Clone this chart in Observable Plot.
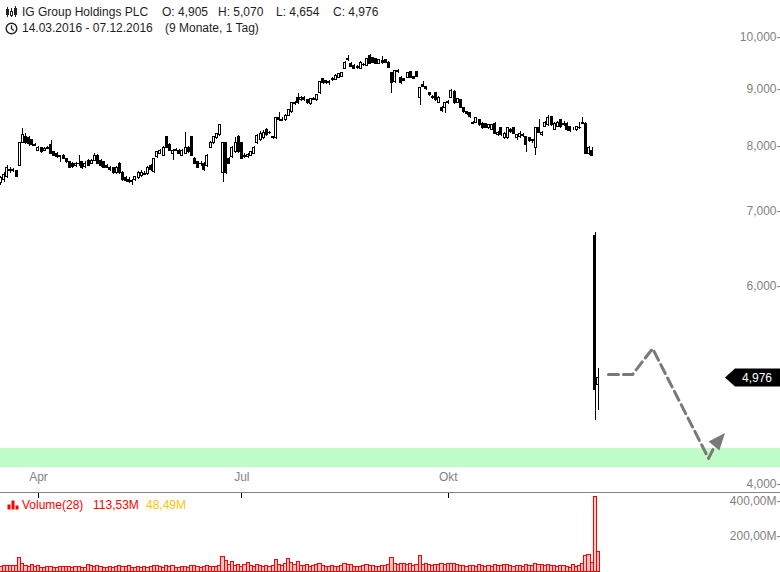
<!DOCTYPE html>
<html><head><meta charset="utf-8">
<script src="https://cdn.jsdelivr.net/npm/d3@7"></script>
<script src="https://cdn.jsdelivr.net/npm/@observablehq/plot@0.6"></script>
<style>
body{margin:0;background:#fff;font-family:"Liberation Sans",Arial,sans-serif;}
#wrap{position:relative;width:780px;height:572px;overflow:hidden;background:#fff}
#price{position:absolute;left:0;top:0}
#vol{position:absolute;left:0;top:493px}
.t{position:absolute;font-size:12px;line-height:14px;color:#1e1e1e;white-space:pre}
</style></head><body>
<div id="wrap">
<div id="price"></div>
<div id="vol"></div>
<svg style="position:absolute;left:5px;top:6px" width="14" height="12" viewBox="0 0 14 12">
 <g stroke="#222" stroke-width="1" fill="none" shape-rendering="crispEdges">
  <line x1="2.5" y1="1" x2="2.5" y2="11"/><rect x="1.5" y="3.5" width="2" height="5" fill="#222"/>
  <line x1="6.5" y1="2" x2="6.5" y2="11"/><rect x="5.5" y="5.5" width="2" height="4" fill="#fff"/>
  <line x1="10.5" y1="0" x2="10.5" y2="11"/><rect x="9.5" y="2.5" width="2" height="6" fill="#222"/>
 </g></svg>
<div class="t" id="ttl" style="left:22px;top:5px"></div>
<div class="t" id="o" style="left:162px;top:5px"></div>
<div class="t" id="h" style="left:218px;top:5px"></div>
<div class="t" id="l" style="left:276px;top:5px"></div>
<div class="t" id="c" style="left:333px;top:5px"></div>
<svg style="position:absolute;left:5px;top:22px" width="13" height="13" viewBox="0 0 13 13">
 <circle cx="6.5" cy="6.5" r="5.3" stroke="#222" stroke-width="1.4" fill="none"/>
 <path d="M6.5 3.2 V6.8 L8.8 8.6" stroke="#222" stroke-width="1.3" fill="none"/></svg>
<div class="t" id="range" style="left:22px;top:21px"></div>
<div class="t" id="span" style="left:165px;top:21px"></div>
<svg style="position:absolute;left:7px;top:500px" width="12" height="10" viewBox="0 0 12 10">
 <rect x="0.5" y="4.5" width="3" height="5" fill="#f00"/><rect x="4.5" y="0.5" width="3" height="9" fill="#f00"/><rect x="8.5" y="5.5" width="3" height="4" fill="#f00"/></svg>
<div class="t" id="vlab" style="left:22px;top:498px;color:#f00"></div>
<div class="t" id="vcur" style="left:93px;top:498px;color:#f00"></div>
<div class="t" id="vavg" style="left:146px;top:498px;color:#f7c600"></div>
</div>
<script>
// ---------- data ----------
const title = "IG Group Holdings PLC";
const dateRange = "14.03.2016 - 07.12.2016";
const spanText = "(9 Monate, 1 Tag)";
const xTicks = [12, 77, 143];
const xTickLabels = ["Apr", "Jul", "Okt"];
const yTicks = [4, 6, 7, 8, 9, 10];
const volTicks = [200, 400];
const supportZone = [4.141, 4.306];
const volLegend = ["Volume(28)", "113,53M", "48,49M"];

const open = [7.42,7.46,7.51,7.62,7.61,7.60,7.69,8.06,8.15,8.13,8.10,8.02,7.93,7.97,7.93,7.96,8.02,7.90,7.88,7.82,
7.84,7.80,7.74,7.72,7.68,7.72,7.74,7.67,7.77,7.72,7.77,7.85,7.77,7.74,7.68,7.66,7.65,7.57,7.72,7.58,
7.50,7.47,7.45,7.46,7.49,7.53,7.56,7.56,7.69,7.59,7.82,7.88,7.85,8.15,8.02,7.88,7.93,7.93,7.85,7.88,
7.97,8.15,7.80,7.74,7.71,7.72,7.69,7.98,8.05,8.13,8.18,7.57,8.05,7.80,7.82,7.90,8.15,8.05,7.85,7.83,
7.85,7.88,8.05,8.10,8.13,8.27,8.23,8.15,8.13,8.47,8.45,8.44,8.52,8.58,8.74,8.84,8.79,8.84,8.79,8.72,
8.81,8.79,8.92,9.18,9.14,9.11,9.16,9.17,9.21,9.23,9.38,9.54,9.48,9.44,9.39,9.38,9.46,9.44,9.62,9.58,
9.56,9.48,9.52,9.54,9.50,9.29,9.12,9.33,9.21,9.18,9.21,9.31,9.22,9.31,8.84,9.08,9.03,8.92,8.83,8.92,
8.75,8.66,8.66,8.75,8.84,8.95,8.75,8.79,8.65,8.58,8.56,8.38,8.40,8.44,8.38,8.37,8.30,8.28,8.38,8.18,
8.30,8.13,8.14,8.27,8.30,8.13,8.15,8.19,8.15,8.13,8.10,7.97,8.30,8.18,8.33,8.35,8.49,8.28,8.33,8.44,
8.38,8.38,8.32,8.28,8.27,8.30,8.38,8.38,7.87,7.93,6.66,4.905];
const high = [7.52,7.58,7.69,7.66,7.65,7.62,8.07,8.30,8.22,8.16,8.12,8.05,7.99,7.98,7.98,7.99,8.10,7.91,7.90,7.85,
7.86,7.81,7.76,7.74,7.74,7.85,7.75,7.76,7.78,7.79,7.88,7.87,7.78,7.76,7.70,7.67,7.66,7.68,7.74,7.60,
7.52,7.50,7.47,7.52,7.59,7.61,7.60,7.67,7.70,7.81,7.92,7.95,7.99,8.17,8.04,7.95,7.96,7.95,7.95,8.23,
7.99,8.17,7.82,7.76,7.75,7.74,7.87,8.08,8.17,8.22,8.37,8.07,8.07,7.82,7.99,8.15,8.18,8.06,7.88,7.88,
7.91,8.00,8.19,8.25,8.27,8.29,8.25,8.17,8.49,8.58,8.48,8.54,8.63,8.76,8.77,8.92,8.86,8.86,8.81,8.83,
8.84,8.90,9.14,9.20,9.16,9.15,9.21,9.27,9.29,9.31,9.52,9.64,9.50,9.46,9.44,9.52,9.48,9.58,9.66,9.60,
9.58,9.56,9.62,9.56,9.52,9.31,9.35,9.36,9.23,9.20,9.31,9.33,9.24,9.33,9.03,9.14,9.05,8.94,8.88,8.94,
8.86,8.68,8.76,8.79,8.99,8.97,8.83,8.81,8.67,8.60,8.58,8.42,8.49,8.46,8.40,8.39,8.37,8.37,8.40,8.25,
8.32,8.23,8.32,8.29,8.32,8.20,8.24,8.22,8.17,8.15,8.12,8.32,8.45,8.25,8.42,8.52,8.51,8.40,8.42,8.46,
8.42,8.40,8.34,8.31,8.34,8.40,8.49,8.40,7.99,7.98,6.70,5.070];
const low = [7.38,7.43,7.49,7.57,7.58,7.50,7.67,8.04,8.03,8.00,7.99,7.99,7.92,7.89,7.91,7.94,7.87,7.84,7.80,7.74,
7.79,7.72,7.64,7.65,7.66,7.68,7.63,7.65,7.68,7.70,7.75,7.70,7.66,7.64,7.64,7.60,7.55,7.55,7.55,7.44,
7.43,7.41,7.39,7.44,7.48,7.51,7.53,7.54,7.60,7.57,7.80,7.86,7.84,7.96,7.91,7.77,7.91,7.86,7.84,7.86,
7.88,7.83,7.70,7.64,7.68,7.60,7.66,7.96,8.03,8.11,8.16,7.43,7.55,7.70,7.80,7.88,7.88,7.78,7.80,7.81,
7.83,7.87,8.03,8.08,8.11,8.16,8.20,8.11,8.11,8.42,8.41,8.42,8.50,8.56,8.70,8.72,8.77,8.77,8.72,8.70,
8.78,8.77,8.90,9.08,9.08,9.07,9.14,9.15,9.19,9.21,9.36,9.52,9.40,9.36,9.37,9.36,9.43,9.42,9.46,9.48,
9.46,9.46,9.47,9.48,9.38,8.92,9.10,9.29,9.08,9.13,9.19,9.19,9.17,9.21,8.70,9.02,8.97,8.86,8.81,8.77,
8.73,8.58,8.56,8.72,8.82,8.72,8.73,8.64,8.56,8.52,8.47,8.36,8.38,8.33,8.28,8.29,8.28,8.27,8.19,8.16,
8.16,8.11,8.12,8.22,8.19,8.10,8.13,8.15,7.90,8.06,8.05,7.85,8.21,8.16,8.31,8.33,8.33,8.26,8.31,8.30,
8.33,8.25,8.23,8.26,8.25,8.28,8.36,7.86,7.85,7.83,4.56,4.654];
const close = [7.49,7.55,7.65,7.60,7.62,7.51,8.05,8.18,8.05,8.03,8.02,8.01,7.97,7.90,7.96,7.97,7.88,7.85,7.82,7.84,
7.80,7.74,7.66,7.67,7.72,7.71,7.66,7.72,7.69,7.77,7.85,7.72,7.69,7.66,7.66,7.62,7.57,7.66,7.57,7.46,
7.45,7.43,7.43,7.51,7.57,7.58,7.55,7.65,7.62,7.80,7.90,7.93,7.97,7.98,7.93,7.93,7.94,7.88,7.93,7.97,
7.90,7.85,7.72,7.66,7.72,7.62,7.85,8.06,8.15,8.20,8.35,8.05,7.57,7.72,7.97,8.06,7.90,7.80,7.82,7.86,
7.90,7.98,8.17,8.21,8.23,8.18,8.22,8.13,8.47,8.44,8.43,8.52,8.61,8.74,8.72,8.74,8.84,8.79,8.74,8.81,
8.80,8.88,9.12,9.10,9.10,9.12,9.19,9.25,9.27,9.29,9.50,9.56,9.42,9.38,9.42,9.50,9.45,9.56,9.48,9.50,
9.48,9.54,9.50,9.50,9.40,9.10,9.33,9.31,9.10,9.15,9.29,9.21,9.19,9.23,9.01,9.04,8.99,8.88,8.86,8.79,
8.84,8.60,8.74,8.76,8.97,8.74,8.81,8.66,8.58,8.54,8.49,8.40,8.47,8.35,8.30,8.31,8.35,8.35,8.21,8.23,
8.18,8.21,8.30,8.24,8.21,8.18,8.21,8.17,8.02,8.08,8.09,8.30,8.23,8.23,8.40,8.47,8.35,8.38,8.40,8.32,
8.36,8.27,8.25,8.28,8.32,8.31,8.40,7.88,7.97,7.85,4.85,4.976];
const volume = [28,30,32,30,34,30,78,45,30,28,35,26,30,22,22,24,26,22,20,26,
24,24,28,22,26,24,22,20,38,30,26,34,28,22,20,24,22,28,30,26,
24,30,22,20,26,22,24,20,28,34,30,24,22,34,26,30,22,22,26,28,
22,30,34,26,22,28,30,24,26,28,30,84,62,40,55,30,38,26,40,46,
30,28,40,30,26,34,24,30,65,40,30,45,69,50,40,53,34,30,40,28,
30,36,44,30,26,28,30,26,24,30,45,40,36,28,24,28,30,36,34,30,
28,26,30,34,40,80,44,40,44,44,36,44,30,40,91,40,44,40,34,40,
36,44,40,42,44,42,40,34,30,28,34,30,28,36,30,26,34,28,36,30,
34,40,38,30,28,34,30,26,40,34,30,42,36,40,34,36,30,30,26,32,
30,24,22,36,26,34,44,90,92,46,423,113.53];
// projected path drawn on the chart (index, price); last point = base of arrow head
const pathX = [194.2, 201.9, 208.3, 226.2, 228.1];
const pathY = [5.01, 5.01, 5.285, 4.219, 4.324];
const headTip = {x: 231.6, y: 4.441};

// ---------- helpers ----------
const de = (v, d) => v.toFixed(d).replace(".", ",");
const n = close.length;
const candles = d3.range(n).map(i => ({i, o: open[i], h: high[i], l: low[i], c: close[i]}));
const vols = d3.range(n).map(i => ({i, v: volume[i]}));
const pathPts = pathX.map((x, k) => ({x, y: pathY[k]}));
const xDomain = [-0.147, 249.2];
const W = 780;
const gray = "#828282";
const arrowCol = "#7d7878";
const last = close[n - 1];

document.getElementById("ttl").textContent = title;
document.getElementById("o").textContent = "O: " + de(open[n-1], 3);
document.getElementById("h").textContent = "H: " + de(high[n-1], 3);
document.getElementById("l").textContent = "L: " + de(low[n-1], 3);
document.getElementById("c").textContent = "C: " + de(close[n-1], 3);
document.getElementById("range").textContent = dateRange;
document.getElementById("span").textContent = spanText;
document.getElementById("vlab").textContent = volLegend[0];
document.getElementById("vcur").textContent = volLegend[1];
document.getElementById("vavg").textContent = volLegend[2];

const priceTag = (index, scales, values, dims) => {
  const y = Math.round(scales.y(last)) + 0.5;
  const R = dims.width;
  const g = d3.create("svg:g");
  g.append("path")
    .attr("d", `M${R-55},${y} L${R-45},${y-9} L${R},${y-9} L${R},${y+9} L${R-45},${y+9} Z`)
    .attr("fill", "#000");
  g.append("text").attr("x", R - 23).attr("y", y).attr("dy", "0.35em")
    .attr("text-anchor", "middle").attr("fill", "#fff")
    .attr("font-size", 12).text(de(last, 3));
  return g.node();
};

const arrowHead = (index, scales) => {
  const bx = scales.x(pathX[pathX.length - 1]), by = scales.y(pathY[pathY.length - 1]);
  const tx = scales.x(headTip.x), ty = scales.y(headTip.y);
  const dx = tx - bx, dy = ty - by, L = Math.hypot(dx, dy);
  const px = -dy / L * 7, py = dx / L * 7;
  const g = d3.create("svg:g");
  g.append("path")
    .attr("d", `M${tx},${ty} L${bx + px},${by + py} L${bx - px},${by - py} Z`)
    .attr("fill", arrowCol);
  return g.node();
};

const price = Plot.plot({
  width: W, height: 493,
  marginTop: 0, marginBottom: 1, marginLeft: 0, marginRight: 0,
  style: {fontFamily: "'Liberation Sans', Arial, sans-serif", fontSize: "12px", background: "transparent"},
  x: {domain: xDomain, range: [0, W], axis: null},
  y: {type: "log", domain: [3.934, 10.788], range: [492, 0], axis: null},
  marks: [
    Plot.rect([supportZone], {x1: xDomain[0], x2: xDomain[1], y1: d => d[0], y2: d => d[1], fill: "#c1fdc9"}),
    Plot.ruleX(candles, {x: "i", y1: "l", y2: "h", stroke: "#000", strokeWidth: 1, shapeRendering: "crispEdges"}),
    Plot.rect(candles, {x1: d => d.i - 0.32, x2: d => d.i + 0.32, y1: "o", y2: "c",
      fill: d => d.c >= d.o ? "#fff" : "#000", stroke: "#000", strokeWidth: 1, shapeRendering: "crispEdges"}),
    Plot.line(pathPts, {x: "x", y: "y", stroke: arrowCol, strokeWidth: 3, strokeDasharray: "10,5"}),
    arrowHead,
    Plot.text(yTicks, {y: d => d, text: d => de(d, 3) + "-", frameAnchor: "right", textAnchor: "end", fill: gray, fontSize: 12}),
    Plot.text(xTicks, {x: d => d, text: (d, i) => xTickLabels[i], frameAnchor: "bottom", dy: -12, fill: gray, fontSize: 12}),
    Plot.frame({anchor: "bottom", stroke: gray}),
    priceTag
  ]
});
document.getElementById("price").appendChild(price);

const vol = Plot.plot({
  width: W, height: 79,
  marginTop: 0, marginBottom: 0, marginLeft: 0, marginRight: 0,
  style: {fontFamily: "'Liberation Sans', Arial, sans-serif", fontSize: "12px", background: "transparent"},
  x: {domain: xDomain, range: [0, W], axis: null},
  y: {domain: [0, 400], range: [78, 8], axis: null},
  marks: [
    Plot.rect(vols, {x1: d => d.i - 0.5, x2: d => d.i + 0.5, y1: 0, y2: "v", fill: "#ffc4c4", stroke: "#f00", strokeWidth: 1, shapeRendering: "crispEdges"}),
    Plot.ruleX(xTicks, {x: d => d, insetBottom: 74, stroke: "#000", shapeRendering: "crispEdges"}),
    Plot.text(volTicks, {y: d => d, text: d => de(d, 2) + "M-", frameAnchor: "right", textAnchor: "end", fill: gray, fontSize: 12})
  ]
});
document.getElementById("vol").appendChild(vol);
</script>
</body></html>
